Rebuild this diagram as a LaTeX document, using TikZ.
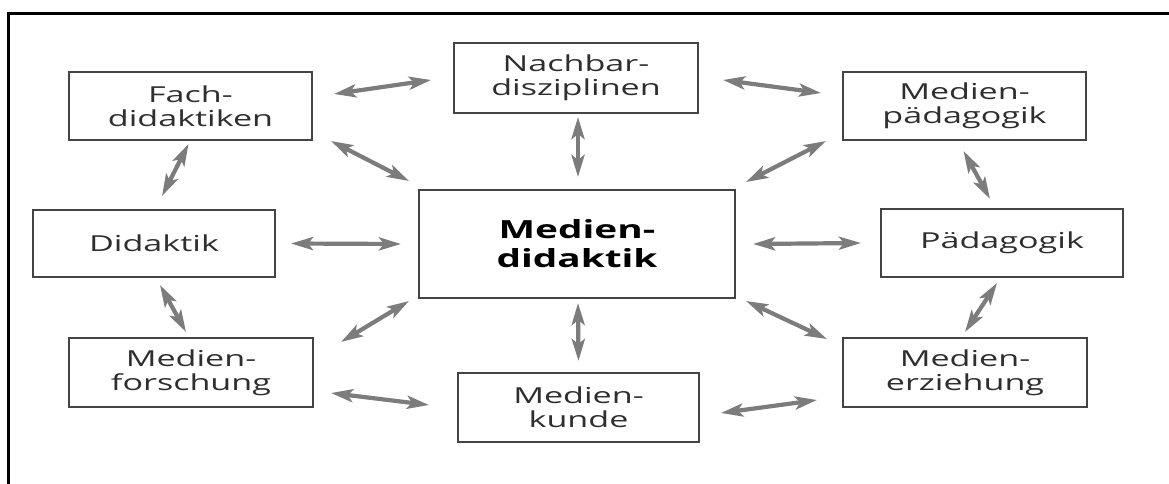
\documentclass[tikz,border=0pt]{standalone}
\usepackage{fontspec}
\setmainfont[FakeStretch=1.55]{Open Sans}
\usetikzlibrary{arrows.meta,calc}
\definecolor{boxline}{HTML}{444444}
\definecolor{txt}{HTML}{2E2E2E}
\definecolor{arr}{HTML}{7C7C7C}
\tikzset{
  box/.style={draw=boxline, line width=2pt, inner sep=0pt, align=center,
    text=txt, font=\fontsize{22}{24}\selectfont},
  mainbox/.style={box, font=\bfseries\fontsize{25}{29}\selectfont, text=black},
  link/.style={draw=arr, line width=4.2pt,
    {Stealth[length=22pt,width=13pt,inset=5pt]}-{Stealth[length=22pt,width=13pt,inset=5pt]}}
}
\begin{document}
\begin{tikzpicture}[x=1pt,y=-1pt]
\useasboundingbox (0,0) rectangle (1169,484);
\fill[white] (0,0) rectangle (1169,484);
\draw[line width=3pt] (8.5,484) -- (8.5,14) -- (1169,14);

\node[box, minimum width=243pt, minimum height=68pt] (fach) at (190.5,106) {Fach-\\didaktiken};
\node[box, minimum width=244pt, minimum height=70pt] (nach) at (576,78) {Nachbar-\\disziplinen};
\node[box, minimum width=243pt, minimum height=68pt] (mpaed) at (964.5,106) {Medien-\\pädagogik};
\node[box, minimum width=242pt, minimum height=67pt] (did) at (154,243.5) {Didaktik};
\node[mainbox, minimum width=316pt, minimum height=108pt] (md) at (577,244) {Medien-\\didaktik};
\node[box, minimum width=242pt, minimum height=68pt] (paed) at (1002,243) {Pädagogik};
\node[box, minimum width=244pt, minimum height=69pt] (mfor) at (191,372.5) {Medien-\\forschung};
\node[box, minimum width=241pt, minimum height=69pt] (mk) at (578.5,407.5) {Medien-\\kunde};
\node[box, minimum width=244pt, minimum height=69pt] (merz) at (965,372.5) {Medien-\\erziehung};

\draw[link] ($(fach.east)+(21,-12)$) -- ($(nach.west)+(-22,2)$);
\draw[link] ($(nach.east)+(24,2)$) -- ($(mpaed.west)+(-21,-13)$);
\draw[link] ($(fach.south east)+(18,0)$) -- ($(md.north west)+(-9,-8)$);
\draw[link] ($(nach.south)+(2,3)$) -- ($(md.north)+(1,-12)$);
\draw[link] ($(mpaed.south west)+(-16,0)$) -- ($(md.north east)+(10,-7)$);
\draw[link] ($(fach.south)+(-2,3)$) -- ($(did.north)+(8,-13)$);
\draw[link] ($(mpaed.south)+(-1,10)$) -- ($(paed.north)+(-12,-9)$);
\draw[link] ($(did.east)+(15,0)$) -- ($(md.west)+(-17,0)$);
\draw[link] ($(md.east)+(17,0)$) -- ($(paed.west)+(-19,0)$);
\draw[link] ($(did.south)+(6,7)$) -- ($(mfor.north)+(-5,-5)$);
\draw[link] ($(mfor.north east)+(27,5)$) -- ($(md.south west)+(-9,2)$);
\draw[link] ($(md.south)+(1,4)$) -- ($(mk.north)+(0,-11)$);
\draw[link] ($(md.south east)+(10,2)$) -- ($(merz.north west)+(-15,2)$);
\draw[link] ($(paed.south)+(-5,5)$) -- ($(merz.north)+(0,-5)$);
\draw[link] ($(mfor.east)+(17,20.5)$) -- ($(mk.west)+(-28,-2.5)$);
\draw[link] ($(mk.east)+(21,5.5)$) -- ($(merz.west)+(-25,27.5)$);
\end{tikzpicture}
\end{document}
